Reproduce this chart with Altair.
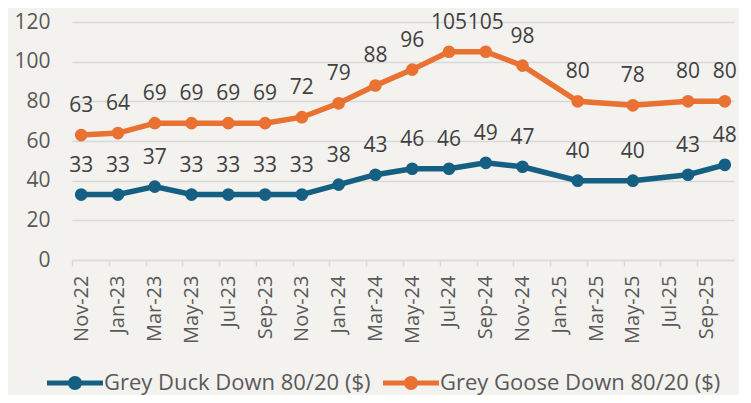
import altair as alt
import pandas as pd

# ---- data ----
months = ["2022-11", "2023-01", "2023-03", "2023-05", "2023-07", "2023-09",
          "2023-11", "2024-01", "2024-03", "2024-05", "2024-07", "2024-09",
          "2024-11", "2025-02", "2025-05", "2025-08", "2025-10"]
duck = [33, 33, 37, 33, 33, 33, 33, 38, 43, 46, 46, 49, 47, 40, 40, 43, 48]
goose = [63, 64, 69, 69, 69, 69, 72, 79, 88, 96, 105, 105, 98, 80, 78, 80, 80]
series = ["Grey Duck Down 80/20 ($)", "Grey Goose Down 80/20 ($)"]
colors = ["#156082", "#E97132"]
tick_labels = ["Nov-22", "Jan-23", "Mar-23", "May-23", "Jul-23", "Sep-23",
               "Nov-23", "Jan-24", "Mar-24", "May-24", "Jul-24", "Sep-24",
               "Nov-24", "Jan-25", "Mar-25", "May-25", "Jul-25", "Sep-25"]
y_ticks = [0, 20, 40, 60, 80, 100, 120]

rows = []
for m, d, g in zip(months, duck, goose):
    yr, mo = map(int, m.split("-"))
    idx = (yr - 2022) * 12 + mo - 11
    rows.append({"idx": idx, "series": series[0], "value": d})
    rows.append({"idx": idx, "series": series[1], "value": g})
df = pd.DataFrame(rows)

FONT = "Open Sans"
W, H = 662, 238
half_month = W / 36 / 2

label_expr = "[" + ",".join("'%s'" % t for t in tick_labels) + "][round(datum.value/2)]"

x = alt.X(
    "idx:Q",
    scale=alt.Scale(domain=[-0.5, 35.5], nice=False, zero=False),
    axis=alt.Axis(
        values=list(range(0, 35, 2)), labelExpr=label_expr, labelAngle=-90,
        tickOffset=-half_month, labelOffset=half_month, title=None, grid=False,
        domainColor="#d9d9d9", domainWidth=1.5, tickColor="#d9d9d9", tickWidth=1.5,
        tickSize=6, labelPadding=9, labelFontSize=20, labelColor="#595959",
        labelFont=FONT, labelOverlap=False, labelFlush=False, labelBound=False,
    ),
)
y = alt.Y(
    "value:Q",
    scale=alt.Scale(domain=[0, 120], nice=False),
    axis=alt.Axis(
        values=y_ticks, title=None, domain=False, ticks=False, grid=True,
        gridColor="#d9d9d9", gridWidth=1.5, labelPadding=22, labelFontSize=21,
        labelColor="#595959", labelFont=FONT,
    ),
)

legend_path = ("M-4,-0.36 L4,-0.36 L4,0.36 L-4,0.36 Z "
               "M1,0 A1,1 0 1,1 -1,0 A1,1 0 1,1 1,0 Z")

base = alt.Chart(df)

lines = base.mark_line(strokeWidth=5.5).encode(
    x=x, y=y,
    stroke=alt.Stroke("series:N", scale=alt.Scale(domain=series, range=colors),
                      legend=None),
)
points = base.mark_circle(size=160, opacity=1).encode(
    x=x, y=y,
    color=alt.Color(
        "series:N", scale=alt.Scale(domain=series, range=colors),
        legend=alt.Legend(
            title=None, orient="none", legendX=-8, legendY=350,
            direction="horizontal", symbolType=legend_path, symbolSize=196,
            symbolStrokeWidth=0, symbolOpacity=1, labelFontSize=22,
            labelColor="#595959", labelFont=FONT, labelOffset=18,
            columnPadding=12, labelLimit=500, padding=0,
        ),
    ),
)
texts = base.mark_text(
    dy=-29, fontSize=21, color="#404040", font=FONT, baseline="middle"
).encode(x=x, y=y, text="value:Q")

chart = (
    alt.layer(lines, points, texts)
    .resolve_scale(color="independent", stroke="independent")
    .properties(
        width=W, height=H,
        autosize=alt.AutoSizeParams(type="none"),
        padding={"left": 64, "top": 14, "right": 5, "bottom": 135},
        background="#f3f2ef",
    )
    .configure_view(stroke=None)
)

chart.save("out.html", embed_options={"renderer": "svg", "actions": False})
